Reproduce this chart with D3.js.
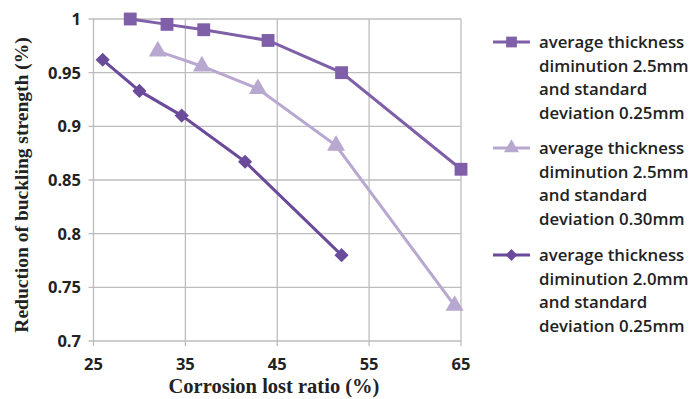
<!DOCTYPE html>
<html>
<head>
<meta charset="utf-8">
<script src="https://cdn.jsdelivr.net/npm/d3@7"></script>
<style>
  body { margin: 0; background: #fff; }
</style>
</head>
<body>
<div id="chart"></div>
<script>
// values
var xTicks = [25, 35, 45, 55, 65];
var yTicks = [0.7, 0.75, 0.8, 0.85, 0.9, 0.95, 1];
var yTickLabels = ["0.7", "0.75", "0.8", "0.85", "0.9", "0.95", "1"];

var squareX = [29, 33, 37, 44, 52, 65];
var squareY = [1.0, 0.995, 0.99, 0.98, 0.95, 0.86];
var triangleX = [32, 36.8, 42.9, 51.4, 64.3];
var triangleY = [0.97, 0.956, 0.935, 0.882, 0.733];
var diamondX = [26, 30, 34.6, 41.5, 52];
var diamondY = [0.962, 0.933, 0.91, 0.867, 0.78];

var seriesNames = [
    ["average thickness", "diminution 2.5mm", "and standard", "deviation 0.25mm"],
    ["average thickness", "diminution 2.5mm", "and standard", "deviation 0.30mm"],
    ["average thickness", "diminution 2.0mm", "and standard", "deviation 0.25mm"]
];
var seriesColors = ["#7f5fa8", "#b8a7cf", "#6a4a9a"];
var seriesShapes = [d3.symbolSquare, d3.symbolTriangle, d3.symbolSquare];
var shapeRotate = [0, 0, 45];
var shapeSizes = [165, 140, 100];

var series = [
    squareX.map(function (d, i) { return {x: d, y: squareY[i]}; }),
    triangleX.map(function (d, i) { return {x: d, y: triangleY[i]}; }),
    diamondX.map(function (d, i) { return {x: d, y: diamondY[i]}; })
];

var width = 696, height = 399;
var plotLeft = 93.5, plotRight = 461, plotTop = 19, plotBottom = 341;

var svg = d3.select("#chart").append("svg")
    .attr("width", width)
    .attr("height", height);

var scaleX = d3.scaleLinear().domain([25, 65]).range([plotLeft, plotRight]);
var scaleY = d3.scaleLinear().domain([0.7, 1]).range([plotBottom, plotTop]);

// grid
svg.append("g").selectAll("line")
    .data(yTicks)
    .enter().append("line")
    .attr("x1", plotLeft - 5).attr("x2", plotRight)
    .attr("y1", function (d) { return scaleY(d); })
    .attr("y2", function (d) { return scaleY(d); })
    .attr("stroke", "#bdbdbd").attr("stroke-width", 1.3);

svg.append("g").selectAll("line")
    .data(xTicks)
    .enter().append("line")
    .attr("y1", plotTop).attr("y2", plotBottom + 5)
    .attr("x1", function (d) { return scaleX(d); })
    .attr("x2", function (d) { return scaleX(d); })
    .attr("stroke", "#bdbdbd").attr("stroke-width", 1.3);

// tick labels
svg.append("g").selectAll("text")
    .data(yTicks)
    .enter().append("text")
    .attr("x", 81)
    .attr("y", function (d) { return scaleY(d) + 6; })
    .attr("text-anchor", "end")
    .style("font-family", "'Open Sans', sans-serif")
    .style("font-weight", "bold")
    .style("font-size", "16.5px")
    .style("fill", "#222")
    .text(function (d, i) { return yTickLabels[i]; });

svg.append("g").selectAll("text")
    .data(xTicks)
    .enter().append("text")
    .attr("x", function (d) { return scaleX(d); })
    .attr("y", 370)
    .attr("text-anchor", "middle")
    .style("font-family", "'Open Sans', sans-serif")
    .style("font-weight", "bold")
    .style("font-size", "16.5px")
    .style("fill", "#222")
    .text(function (d) { return d; });

// axis titles
svg.append("text")
    .attr("x", 274)
    .attr("y", 393)
    .attr("text-anchor", "middle")
    .style("font-family", "'Liberation Serif', serif")
    .style("font-weight", "bold")
    .style("font-size", "20.5px")
    .style("fill", "#222")
    .text("Corrosion lost ratio (%)");

svg.append("text")
    .attr("transform", "translate(28,185) rotate(-90)")
    .attr("text-anchor", "middle")
    .style("font-family", "'Liberation Serif', serif")
    .style("font-weight", "bold")
    .style("font-size", "19.5px")
    .style("fill", "#222")
    .text("Reduction of buckling strength (%)");

// lines and markers
var line = d3.line()
    .x(function (d) { return scaleX(d.x); })
    .y(function (d) { return scaleY(d.y); });

series.forEach(function (s, k) {
    svg.append("path")
        .datum(s)
        .attr("d", line)
        .attr("fill", "none")
        .attr("stroke", seriesColors[k])
        .attr("stroke-width", 3);

    svg.append("g").selectAll("path")
        .data(s)
        .enter().append("path")
        .attr("transform", function (d) {
            return "translate(" + scaleX(d.x) + "," + scaleY(d.y) + ") rotate(" + shapeRotate[k] + ")";
        })
        .attr("d", d3.symbol().type(seriesShapes[k]).size(shapeSizes[k]))
        .attr("fill", seriesColors[k]);
});

// legend
var legendTop = [42, 148, 255];
seriesNames.forEach(function (names, k) {
    var g = svg.append("g").attr("transform", "translate(0," + legendTop[k] + ")");
    g.append("line")
        .attr("x1", 493).attr("x2", 530)
        .attr("y1", 0).attr("y2", 0)
        .attr("stroke", seriesColors[k])
        .attr("stroke-width", 3);
    g.append("path")
        .attr("transform", "translate(511.5,0) rotate(" + shapeRotate[k] + ")")
        .attr("d", d3.symbol().type(seriesShapes[k]).size(shapeSizes[k] * 0.7))
        .attr("fill", seriesColors[k]);
    names.forEach(function (t, j) {
        g.append("text")
            .attr("x", 539)
            .attr("y", j * 23.5 + 6)
            .style("font-family", "'Open Sans', sans-serif")
            .style("font-weight", "600")
            .style("font-size", "16.8px")
            .style("fill", "#222")
            .text(t);
    });
});
</script>
</body>
</html>
